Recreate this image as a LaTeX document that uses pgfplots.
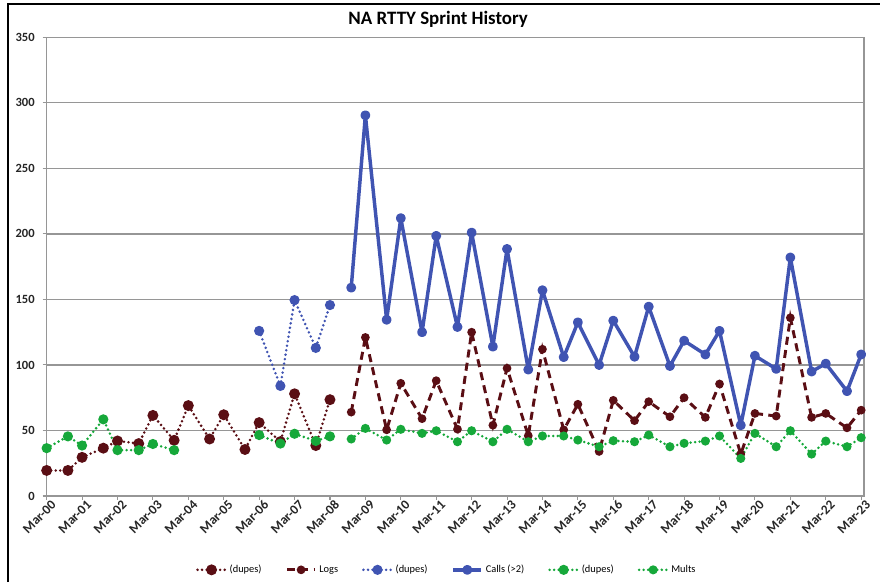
\documentclass[border=0pt]{standalone}
\usepackage{pgfplots}
\pgfplotsset{compat=1.18}
\usepackage{pgfplotstable}
\usepackage{fontspec}
\setmainfont{Carlito}
\definecolor{maroon}{RGB}{90,14,20}
\definecolor{cblue}{RGB}{64,84,178}
\definecolor{cgreen}{RGB}{22,168,58}
\definecolor{gridgray}{RGB}{150,150,150}

\pgfplotstableread{
x y
0 19.5
0.6 19.5
1 29.5
1.6 36.5
2 42
2.6 40
3 61.5
3.6 42.5
4 69
4.6 43.5
5 62
5.6 35.5
6 56
6.6 41.5
7 78
7.6 38.5
8 73.5
}\logsdupes

\pgfplotstableread{
x y
8.6 64
9 121
9.6 50.5
10 86
10.6 59
11 88
11.6 51
12 125
12.6 54
13 97.5
13.6 46
14 112
14.6 50.5
15 70
15.6 34
16 73
16.6 57.5
17 72
17.6 60.5
18 75
18.6 60
19 85.5
19.6 32
20 63
20.6 61
21 136
21.6 60
22 63
22.6 52
23 65.5
}\logs

\pgfplotstableread{
x y
6 126
6.6 84
7 149.5
7.6 113
8 145.7
}\callsdupes

\pgfplotstableread{
x y
8.6 159
9 290.5
9.6 134.5
10 212
10.6 125
11 198.5
11.6 129
12 201
12.6 114
13 188.5
13.6 96.5
14 157
14.6 106
15 132.5
15.6 100
16 133.8
16.6 106.3
17 144.5
17.6 99.2
18 118.5
18.6 108
19 126
19.6 54
20 107
20.6 97
21 182
21.6 95
22 101
22.6 80
23 108
}\calls

\pgfplotstableread{
x y
0 36.5
0.6 45.5
1 38.5
1.6 58.5
2 35
2.6 35
3 39.7
3.6 35
4 nan
6 46.5
6.6 40
7 47.5
7.6 42
8 45.5
}\multsdupes

\pgfplotstableread{
x y
8.6 43.5
9 51.6
9.6 42.7
10 50.9
10.6 47.8
11 49.8
11.6 41.4
12 49.8
12.6 41.4
13 50.9
13.6 41.4
14 45.8
14.6 45.8
15 42.7
15.6 37.6
16 42.2
16.6 41.4
17 46.5
17.6 37.6
18 40.2
18.6 41.9
19 45.8
19.6 28.7
20 47.8
20.6 37.6
21 49.8
21.6 32
22 41.9
22.6 37.6
23 44.5
}\mults

\begin{document}
\begin{tikzpicture}
\useasboundingbox (0,0) rectangle (660pt,436.5pt);
\draw[black, line width=1.5pt] (6pt,0) -- (6pt,433.5pt) -- (660pt,433.5pt);
\begin{axis}[
  at={(35pt,64.5pt)}, anchor=south west,
  scale only axis,
  width=613pt, height=344pt,
  xmin=0, xmax=23.08,
  ymin=0, ymax=350,
  unbounded coords=jump,
  xtick={0,...,23},
  xticklabels={Mar-00,Mar-01,Mar-02,Mar-03,Mar-04,Mar-05,Mar-06,Mar-07,Mar-08,Mar-09,Mar-10,Mar-11,Mar-12,Mar-13,Mar-14,Mar-15,Mar-16,Mar-17,Mar-18,Mar-19,Mar-20,Mar-21,Mar-22,Mar-23},
  ytick={0,50,...,350},
  x tick label style={rotate=45, anchor=north east, inner sep=0pt, xshift=2.5pt, yshift=-1.5pt,
    font=\bfseries\fontsize{10}{11}\selectfont},
  y tick label style={font=\bfseries\fontsize{9.4}{10}\selectfont, xshift=-2.5pt},
  ticklabel style={text=black!85},
  /pgf/number format/assume math mode=true,
  tick align=outside,
  major tick length=3pt,
  tick style={gridgray, line width=0.8pt},
  xtick pos=bottom, ytick pos=left,
  ymajorgrids,
  grid style={gridgray, line width=0.9pt},
  axis line style={gridgray, line width=1pt},
  every axis title shift=0pt,
  title={NA RTTY Sprint History},
  title style={at={(0.479,1.040)}, anchor=center, font=\bfseries\fontsize{14.2}{16}\selectfont},
  legend columns=6,
  legend style={at={(0.490,-0.161)}, anchor=center, draw=none, fill=none,
    font=\fontsize{7.8}{8}\selectfont,
    /tikz/every even column/.append style={column sep=16pt}},
  legend cell align=left,
  legend image code/.code={\draw[mark repeat=2,mark phase=2] plot coordinates {(0cm,0cm) (0.37cm,0cm) (0.74cm,0cm)};},
]
\addplot[maroon, line width=2.1pt, line cap=round, dash pattern=on 0pt off 3.4pt,
  mark=*, mark size=3pt, mark options={solid, fill=maroon}] table {\logsdupes};
\addlegendentry{(dupes)}
\addplot[maroon, line width=2.2pt, dash pattern=on 6pt off 4pt,
  mark=*, mark size=2.1pt, mark options={solid, fill=maroon}] table {\logs};
\addlegendentry{Logs}
\addplot[cblue, line width=2.1pt, line cap=round, dash pattern=on 0pt off 3.4pt,
  mark=*, mark size=2.7pt, mark options={solid, fill=cblue}] table {\callsdupes};
\addlegendentry{(dupes)}
\addplot[cblue, line width=2.6pt, line join=round,
  mark=*, mark size=2.4pt, mark options={solid, fill=cblue}] table {\calls};
\addlegendentry{Calls (>2)}
\addplot[cgreen, line width=2.1pt, line cap=round, dash pattern=on 0pt off 3.4pt,
  mark=*, mark size=2.7pt, mark options={solid, fill=cgreen}] table {\multsdupes};
\addlegendentry{(dupes)}
\addplot[cgreen, line width=2.1pt, line cap=round, dash pattern=on 0pt off 3.4pt,
  mark=*, mark size=2.3pt, mark options={solid, fill=cgreen}] table {\mults};
\addlegendentry{Mults}
\end{axis}
\end{tikzpicture}
\end{document}
